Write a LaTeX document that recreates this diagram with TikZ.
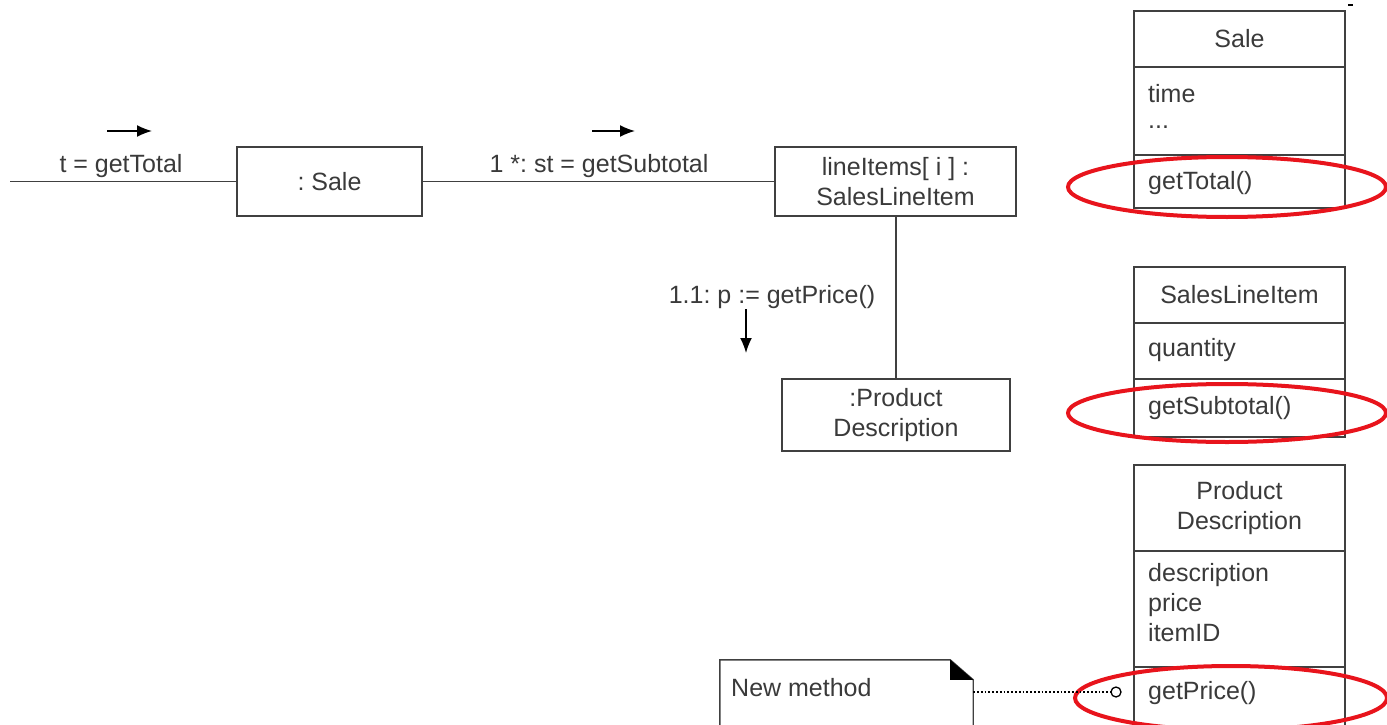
\documentclass[tikz,border=0pt]{standalone}
\usepackage{fontspec}
\setmainfont{Liberation Sans}
\usetikzlibrary{arrows.meta,calc}

\definecolor{ink}{HTML}{3A3A3A}
\definecolor{edge}{HTML}{404040}
\definecolor{mark}{HTML}{E8141C}

\tikzset{
  base/.style={font=\fontsize{25}{30}\selectfont\frenchspacing, text=ink},
  obj/.style={base, draw=edge, line width=1.4pt, rectangle, inner sep=0pt, align=center},
  cpart/.style={draw=edge, line width=1.4pt, rectangle, inner sep=0pt, minimum width=211pt, base, align=center},
  ctext/.style={base, anchor=west, inner sep=0pt, align=left},
  lbl/.style={base, inner sep=0pt},
  link/.style={draw=edge, line width=1.4pt},
  msg/.style={draw=black, line width=1.6pt, -{Latex[length=15pt,width=12pt]}},
  redmark/.style={draw=mark, line width=4pt},
}

\begin{document}
\begin{tikzpicture}[x=1pt,y=-1pt]
\useasboundingbox (0,0) rectangle (1387,725);

% ---- collaboration diagram ----
\node[obj, minimum width=185pt, minimum height=69pt] (sale) at (329.5,181.5) {: Sale};
\node[obj, minimum width=241pt, minimum height=69pt] (li) at (895.5,181.5) {lineItems[ i ] :\\SalesLineItem};
\node[obj, minimum width=228pt, minimum height=72pt] (prod) at (896,415) {:Product\\Description};

\coordinate (caller) at (10,181.5);
\draw[link] (caller) -- (sale.west);
\draw[link] (sale.east) -- (li.west);
\draw[link] (li.south -| prod.north) -- (prod.north);

% messages
\node[lbl] (m1) at (121,166) {t = getTotal};
\coordinate (m1a) at (107,131); \coordinate (m1b) at (152,131);
\draw[msg] (m1a) -- (m1b);

\node[lbl] (m2) at (599,166) {1 *: st = getSubtotal};
\coordinate (m2a) at (592,131); \coordinate (m2b) at (635,131);
\draw[msg] (m2a) -- (m2b);

\node[lbl] (m3) at (772,297) {1.1: p := getPrice()};
\coordinate (m3a) at (746,309); \coordinate (m3b) at (746,353);
\draw[msg] (m3a) -- (m3b);

% ---- class: Sale ----
\node[cpart, minimum height=56pt] (saleH) at (1239.5,39) {Sale};
\node[cpart, minimum height=88pt] (saleA) at (1239.5,111) {};
\node[cpart, minimum height=53pt] (saleO) at (1239.5,181.5) {};
\node[ctext] (saleAt) at (1148,94) {time};
\node[ctext] (saleAd) at (1148,127) {...};
\node[ctext] (saleOt) at (1148,183) {getTotal()};
\draw[redmark] (1227,187) ellipse [x radius=159, y radius=30];

% ---- class: SalesLineItem ----
\node[cpart, minimum height=56pt] (sliH) at (1239.5,295) {SalesLineItem};
\node[cpart, minimum height=56pt] (sliA) at (1239.5,351) {};
\node[cpart, minimum height=58pt] (sliO) at (1239.5,408) {};
\node[ctext] (sliAt) at (1148,350) {quantity};
\node[ctext] (sliOt) at (1148,408) {getSubtotal()};
\draw[redmark] (1227,413) ellipse [x radius=159, y radius=29];

% ---- class: ProductDescription ----
\node[cpart, minimum height=86pt] (pdH) at (1239.5,508) {Product\\Description};
\node[cpart, minimum height=116pt] (pdA) at (1239.5,609) {};
\node[cpart, minimum height=70pt] (pdO) at (1239.5,702) {};
\node[ctext, anchor=north west] (pdAt) at (1148,563) {description\\price\\itemID};
\node[ctext] (pdOt) at (1148,693) {getPrice()};
\draw[redmark] (1231,698) ellipse [x radius=156, y radius=32];

% ---- note ----
\node[base, minimum width=253pt, minimum height=76pt, inner sep=0pt] (note) at (846.5,698) {};
\node[ctext] (noteT) at (731,688) {New method};
\draw[link] (note.south west) -- (note.north west) -- ($(note.north east)+(-23,0)$)
  -- ($(note.north east)+(0,20)$) -- (note.south east);
\fill[black] ($(note.north east)+(-23,0)$) -- ($(note.north east)+(-23,20)$) -- ($(note.north east)+(0,20)$) -- cycle;
\node[draw=black, line width=1.3pt, circle, inner sep=0pt, minimum size=10pt] (anchorO) at (1116,692) {};
\draw[draw=black, line width=1.8pt, dotted] (note.east |- anchorO) -- (anchorO.west);

% small tick at the upper right
\draw[black, line width=1.2pt] (1348,5) -- (1353,5);
\end{tikzpicture}
\end{document}
